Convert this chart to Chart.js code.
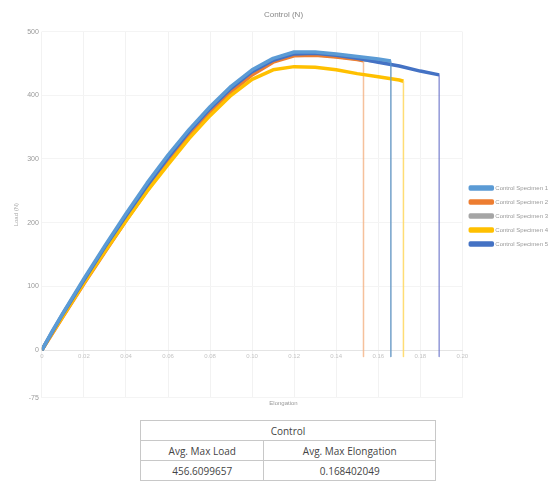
<!DOCTYPE html>
<html>
<head>
<meta charset="utf-8">
<script src="https://cdn.jsdelivr.net/npm/chart.js@4/dist/chart.umd.min.js"></script>
<style>
  body { margin: 0; background: #fff; font-family: "Open Sans", "Liberation Sans", sans-serif; }
  #wrap { position: absolute; left: 0; top: 0; width: 558px; height: 418px; }
  #stats { position: absolute; left: 140px; top: 420px; width: 296px; border-collapse: collapse; font-size: 10px; color: #444; }
  #stats td { border: 1px solid #c8c8c8; text-align: center; height: 19px; padding: 0; }
</style>
</head>
<body>
<div id="wrap"><canvas id="chart"></canvas></div>
<table id="stats">
  <tr><td colspan="2">Control</td></tr>
  <tr><td>Avg. Max Load</td><td>Avg. Max Elongation</td></tr>
  <tr><td>456.6099657</td><td>0.168402049</td></tr>
</table>
<script>
// elongation / load readings per specimen
const names = ['Control Specimen 1', 'Control Specimen 2', 'Control Specimen 3', 'Control Specimen 4', 'Control Specimen 5'];

const elong1 = [0, 0.005, 0.01, 0.02, 0.03, 0.04, 0.05, 0.06, 0.07, 0.08, 0.09, 0.10, 0.11, 0.12, 0.13, 0.14, 0.15, 0.16, 0.166, 0.166];
const load1  = [0, 30, 58, 112, 164, 214, 262, 306, 346, 382, 414, 440, 458, 468, 468, 465, 461, 457, 454, -10];

const elong2 = [0, 0.005, 0.01, 0.02, 0.03, 0.04, 0.05, 0.06, 0.07, 0.08, 0.09, 0.10, 0.11, 0.12, 0.13, 0.14, 0.15, 0.153, 0.153];
const load2  = [0, 26, 52, 104, 154, 203, 250, 294, 335, 372, 405, 432, 452, 462, 463, 460, 456, 454, -10];

const elong3 = [0, 0.005, 0.01, 0.02, 0.03, 0.04, 0.05, 0.06, 0.07, 0.08, 0.09, 0.10, 0.11, 0.12, 0.13, 0.14, 0.15, 0.16, 0.166, 0.166];
const load3  = [0, 28, 55, 108, 159, 208, 256, 300, 341, 377, 409, 436, 455, 464, 464, 461, 457, 453, 451, -10];

const elong4 = [0, 0.005, 0.01, 0.02, 0.03, 0.04, 0.05, 0.06, 0.07, 0.08, 0.09, 0.10, 0.11, 0.12, 0.13, 0.14, 0.15, 0.16, 0.17, 0.172, 0.172];
const load4  = [0, 27, 53, 105, 155, 203, 249, 291, 332, 368, 400, 425, 440, 445, 444, 440, 434, 429, 424, 422, -10];

const elong5 = [0, 0.005, 0.01, 0.02, 0.03, 0.04, 0.05, 0.06, 0.07, 0.08, 0.09, 0.10, 0.11, 0.12, 0.13, 0.14, 0.15, 0.16, 0.17, 0.18, 0.189, 0.189];
const load5  = [0, 29, 57, 110, 162, 211, 258, 302, 343, 379, 411, 437, 455, 465, 466, 463, 458, 452, 446, 438, 432, -10];

const colors = ['#5B9BD5', '#ED7D31', '#A5A5A5', '#FFC000', '#4472C4'];
const dropColors = ['rgba(91,155,213,0.7)', 'rgba(244,177,131,0.8)', 'rgba(165,165,165,0.6)', 'rgba(255,217,102,0.9)', 'rgba(100,110,200,0.7)'];

const yTicks = { min: -75, max: 500, step: 100 };
const xTicks = { min: 0, max: 0.2, step: 0.02 };

const series = [[elong1, load1], [elong2, load2], [elong3, load3], [elong4, load4], [elong5, load5]];

const datasets = series.map(([xs, ys], i) => {
  const last = xs.length - 1;
  return {
    label: names[i],
    data: xs.map((x, k) => ({ x, y: ys[k] })),
    borderColor: colors[i],
    backgroundColor: colors[i],
    borderWidth: 3.5,
    pointRadius: 0,
    tension: 0,
    borderJoinStyle: 'round',
    segment: {
      // final segment is the drop back down to the axis
      borderColor: (ctx) => ctx.p1DataIndex === last ? dropColors[i] : undefined,
      borderWidth: (ctx) => ctx.p1DataIndex === last ? 1.5 : undefined,
    },
  };
});

// draw order: grey behind, light blue on top like the sheet
const order = [2, 1, 3, 4, 0];
order.forEach((idx, n) => { datasets[idx].order = order.length - n; });

new Chart(document.getElementById('chart'), {
  type: 'line',
  data: { datasets },
  options: {
    responsive: true,
    maintainAspectRatio: false,
    animation: false,
    layout: { padding: { left: 9, right: 0, top: 2, bottom: 11 } },
    plugins: {
      title: {
        display: true,
        text: 'Control (N)',
        color: '#888',
        font: { size: 8, weight: 'normal' },
        padding: { top: 8, bottom: 12 },
      },
      subtitle: {
        display: true,
        position: 'bottom',
        text: 'Elongation',
        color: '#999',
        font: { size: 6 },
        padding: { top: 2, bottom: 0 },
      },
      legend: {
        position: 'right',
        title: { display: true, text: ' ', font: { size: 6 }, padding: { top: 8, bottom: 8 } },
        labels: {
          boxWidth: 22,
          boxHeight: 2,
          padding: 8,
          color: '#999',
          font: { size: 6 },
          sort: (a, b) => a.datasetIndex - b.datasetIndex,
        },
      },
      tooltip: { enabled: false },
    },
    scales: {
      x: {
        type: 'linear',
        position: { y: 0 },
        min: xTicks.min,
        max: xTicks.max,
        ticks: { stepSize: xTicks.step, color: '#c4c4c4', font: { size: 6 }, maxRotation: 0 },
        grid: { color: '#f2f2f2', drawTicks: false },
        border: { color: '#e4e4e4' },
      },
      y: {
        min: yTicks.min,
        max: yTicks.max,
        ticks: { stepSize: yTicks.step, color: '#999', font: { size: 7 } },
        grid: { color: '#f4f4f4', drawTicks: false },
        border: { display: false },
        title: { display: true, text: 'Load (N)', color: '#aaa', font: { size: 6 } },
      },
    },
  },
});
</script>
</body>
</html>
